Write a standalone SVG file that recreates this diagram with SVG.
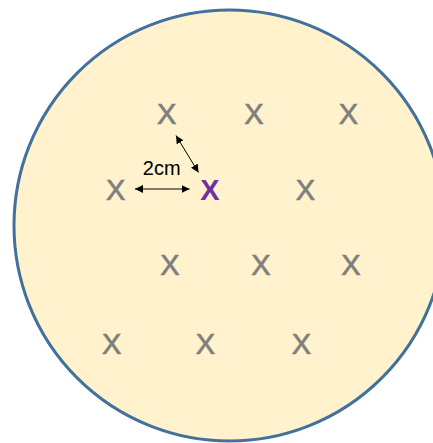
<svg xmlns="http://www.w3.org/2000/svg" width="433" height="443" viewBox="0 0 433 443">
  <style>
    .x { font-family: "Liberation Sans", Arial, sans-serif; font-size: 29px; fill: #7f7f7f; stroke: #7f7f7f; stroke-width: 0.7; text-anchor: middle; }
    .xp { font-family: "Liberation Sans", Arial, sans-serif; font-size: 29px; font-weight: bold; fill: #7030a0; text-anchor: middle; }
    .lbl { font-family: "Liberation Sans", Arial, sans-serif; font-size: 20px; fill: #000000; text-anchor: middle; }
    .conn { stroke: #000000; stroke-width: 1; fill: none; }
  </style>
  <defs>
    <marker id="ah" viewBox="0 0 10 10" refX="10" refY="5" markerWidth="8" markerHeight="8" markerUnits="userSpaceOnUse" orient="auto-start-reverse">
      <path d="M0,0 L10,5 L0,10 Z" fill="#000000"/>
    </marker>
  </defs>
  <g id="dish">
    <circle cx="229.5" cy="225.5" r="215.5" fill="#fff2cc" stroke="#41719c" stroke-width="3"/>
  </g>
  <g id="x-r1c1"><text class="x" x="166.7" y="124">X</text></g>
  <g id="x-r1c2"><text class="x" x="254" y="124">X</text></g>
  <g id="x-r1c3"><text class="x" x="348.3" y="124">X</text></g>
  <g id="x-r2c1"><text class="x" x="115.7" y="200">X</text></g>
  <g id="x-center"><text class="xp" x="210" y="200">X</text></g>
  <g id="x-r2c3"><text class="x" x="305.3" y="200">X</text></g>
  <g id="x-r3c1"><text class="x" x="170" y="275">X</text></g>
  <g id="x-r3c2"><text class="x" x="261" y="275">X</text></g>
  <g id="x-r3c3"><text class="x" x="351" y="275">X</text></g>
  <g id="x-r4c1"><text class="x" x="111.7" y="354">X</text></g>
  <g id="x-r4c2"><text class="x" x="205.3" y="354">X</text></g>
  <g id="x-r4c3"><text class="x" x="301.3" y="354">X</text></g>
  <g id="connectors">
    <line class="conn" x1="135" y1="189" x2="189.5" y2="189" marker-start="url(#ah)" marker-end="url(#ah)"/>
    <line class="conn" x1="176" y1="135.5" x2="198.5" y2="172.5" marker-start="url(#ah)" marker-end="url(#ah)"/>
  </g>
  <g id="label-2cm"><text class="lbl" x="161.7" y="175">2cm</text></g>
</svg>
